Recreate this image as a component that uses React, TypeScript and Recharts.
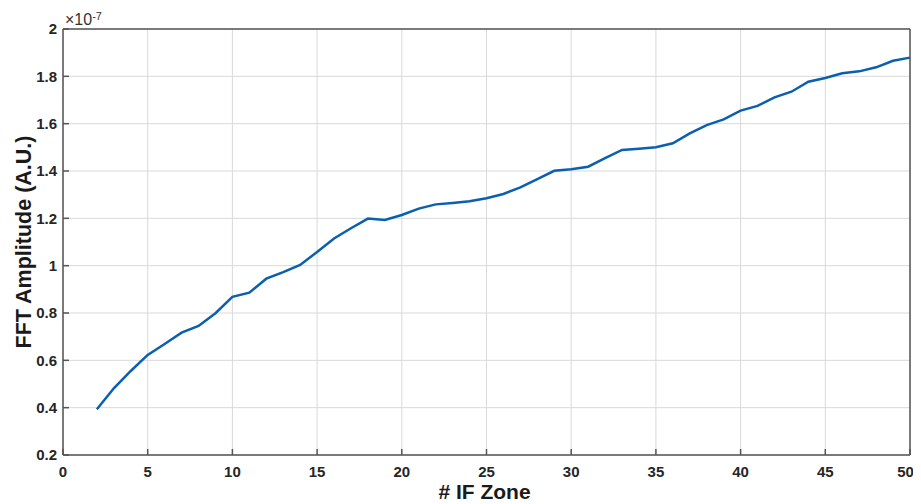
import React from 'react';
import { LineChart, Line, XAxis, YAxis, CartesianGrid, Label } from 'recharts';

// IF zone index (x) and FFT amplitude in units of 1e-7 (y)
const zones = [
  2, 3, 4, 5, 6, 7, 8, 9, 10, 11, 12, 13, 14, 15, 16, 17, 18, 19, 20, 21, 22, 23, 24, 25, 26,
  27, 28, 29, 30, 31, 32, 33, 34, 35, 36, 37, 38, 39, 40, 41, 42, 43, 44, 45, 46, 47, 48, 49, 50,
];
const amplitudes = [
  0.393, 0.482, 0.555, 0.623, 0.669, 0.717, 0.745, 0.799, 0.868, 0.886, 0.945, 0.973, 1.003,
  1.058, 1.115, 1.158, 1.199, 1.193, 1.214, 1.241, 1.259, 1.265, 1.272, 1.285, 1.303, 1.331,
  1.366, 1.401, 1.407, 1.418, 1.454, 1.489, 1.494, 1.5, 1.517, 1.559, 1.594, 1.618, 1.655,
  1.675, 1.711, 1.735, 1.777, 1.793, 1.813, 1.821, 1.838, 1.866, 1.879,
];
const xTicks = [0, 5, 10, 15, 20, 25, 30, 35, 40, 45, 50];
const yTicks = [0.2, 0.4, 0.6, 0.8, 1, 1.2, 1.4, 1.6, 1.8, 2];
const exponentLabel = '-7';

const data = zones.map((z, i) => ({ zone: z, amp: amplitudes[i] }));

const FONT = '"Liberation Sans", Arial, Helvetica, sans-serif';
const AXIS = '#555555';
const tickStyle = { fontSize: 15, fontWeight: 700, fill: '#262626', fontFamily: FONT };

const fmtY = (v: number) => String(Number(v.toFixed(1)));

const App: React.FC = () => {
  return (
    <div style={{ fontFamily: FONT }}>
      <LineChart width={905} height={496} data={data} margin={{ top: 20, right: 2, left: 0, bottom: 0 }}>
        <CartesianGrid xAxisId="main" yAxisId="main" stroke="#d9d9d9" strokeWidth={1} />
        <XAxis
          xAxisId="main"
          dataKey="zone"
          type="number"
          domain={[0, 50]}
          ticks={xTicks}
          height={49}
          tickSize={-6}
          tickMargin={17}
          tick={tickStyle}
          axisLine={{ stroke: AXIS, strokeWidth: 1.5 }}
          tickLine={{ stroke: AXIS, strokeWidth: 1.5 }}
        >
          <Label
            content={({ viewBox }: any) => (
              <text
                x={viewBox.x + viewBox.width / 2 - 2}
                y={viewBox.y + 44}
                textAnchor="middle"
                fontSize={21}
                fontWeight={700}
                fill="#1a1a1a"
                fontFamily={FONT}
              >
                # IF Zone
              </text>
            )}
          />
        </XAxis>
        <XAxis
          xAxisId="top"
          orientation="top"
          type="number"
          domain={[0, 50]}
          ticks={xTicks}
          height={1}
          tickSize={-6}
          tick={false}
          axisLine={{ stroke: AXIS, strokeWidth: 1.5 }}
          tickLine={{ stroke: AXIS, strokeWidth: 1.5 }}
        >
          <Label
            content={({ viewBox }: any) => (
              <text x={viewBox.x + 2} y={viewBox.y - 3} fontSize={16} fill="#333" fontFamily={FONT}>
                ×10
                <tspan dy={-5} fontSize={11}>
                  {exponentLabel}
                </tspan>
              </text>
            )}
          />
        </XAxis>
        <YAxis
          yAxisId="main"
          type="number"
          domain={[0.2, 2]}
          ticks={yTicks}
          width={55}
          tickSize={-6}
          tickMargin={12}
          tick={tickStyle}
          tickFormatter={fmtY}
          axisLine={{ stroke: AXIS, strokeWidth: 1.5 }}
          tickLine={{ stroke: AXIS, strokeWidth: 1.5 }}
        >
          <Label
            content={({ viewBox }: any) => {
              const cx = 16;
              const cy = viewBox.y + viewBox.height / 2;
              return (
                <text
                  x={cx}
                  y={cy}
                  transform={`rotate(-90, ${cx}, ${cy})`}
                  textAnchor="middle"
                  dominantBaseline="central"
                  fontSize={21.5}
                  fontWeight={700}
                  fill="#1a1a1a"
                  fontFamily={FONT}
                >
                  FFT Amplitude (A.U.)
                </text>
              );
            }}
          />
        </YAxis>
        <YAxis
          yAxisId="right"
          orientation="right"
          type="number"
          domain={[0.2, 2]}
          ticks={yTicks}
          width={1}
          tickSize={-6}
          tick={false}
          axisLine={{ stroke: AXIS, strokeWidth: 1.5 }}
          tickLine={{ stroke: AXIS, strokeWidth: 1.5 }}
        />
        <Line
          xAxisId="main"
          yAxisId="main"
          type="linear"
          dataKey="amp"
          stroke="#0a5fb0"
          strokeWidth={2.5}
          dot={false}
          isAnimationActive={false}
        />
      </LineChart>
    </div>
  );
};

export default App;
